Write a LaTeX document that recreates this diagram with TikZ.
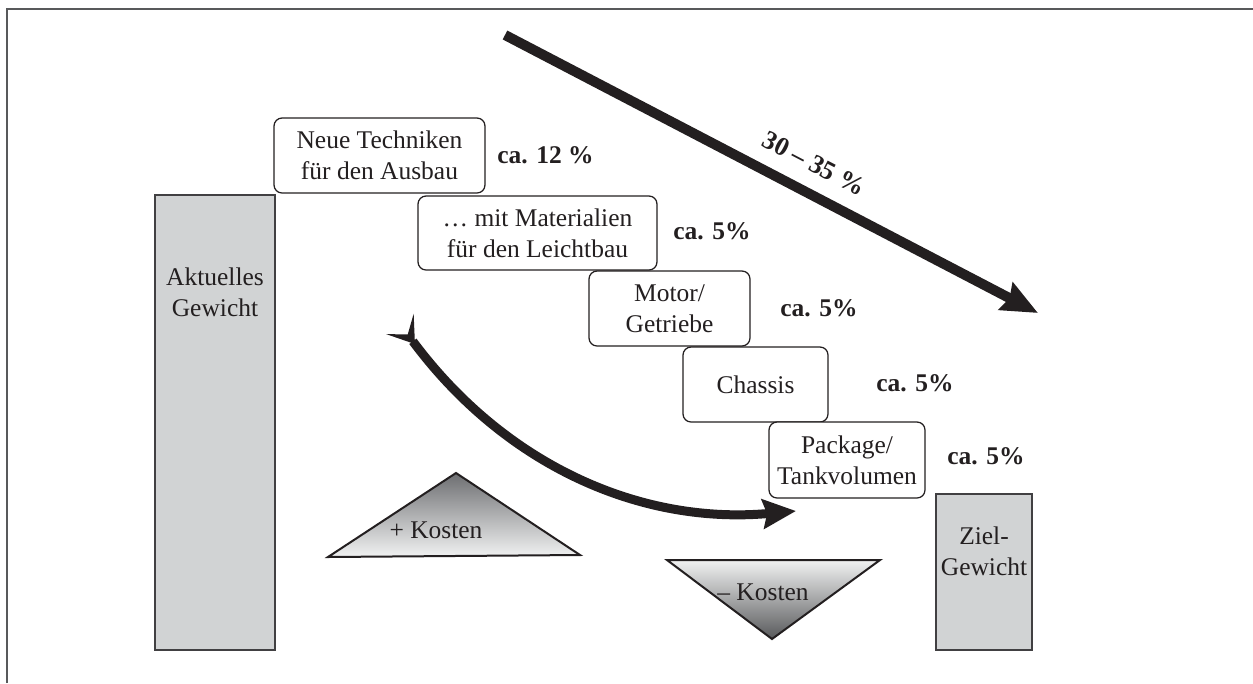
\documentclass[tikz,border=0pt]{standalone}
\usepackage{fontspec}
\setmainfont{Liberation Serif}
\usetikzlibrary{arrows.meta}
\definecolor{ink}{HTML}{231F20}
\definecolor{barfill}{HTML}{D1D3D4}
\definecolor{barline}{HTML}{414042}
\definecolor{framegray}{HTML}{58595B}
\definecolor{shdark}{HTML}{6D6E71}
\definecolor{shlight}{HTML}{F1F2F2}
\tikzset{
  txt/.style={font=\fontsize{14.5}{17.6}\selectfont, text=ink, align=center, inner sep=0pt},
  stepbox/.style={txt, draw=ink, fill=white, line width=0.025cm, rounded corners=0.16cm},
  pct/.style={font=\fontsize{14.5}{17.6}\selectfont\bfseries, text=ink, anchor=west, inner sep=0pt},
  bar/.style={txt, draw=barline, fill=barfill, line width=0.035cm},
  bigarrow/.style={ink, line width=0.2cm, -{Stealth[length=0.72cm,width=0.6cm,inset=0.08cm]}},
  curvearrow/.style={ink, line width=0.18cm,
     {Stealth[reversed,length=0.5cm,width=0.68cm,inset=0.26cm]}-{Stealth[length=0.66cm,width=0.58cm,inset=0.08cm]}},
  tri/.style={draw=ink, line width=0.04cm, line join=miter}
}
\begin{document}
\begin{tikzpicture}[x=0.02cm,y=-0.02cm]
\useasboundingbox (0,0) rectangle (1253,683);
% frame
\draw[framegray, line width=0.04cm] (7,683) -- (7,9) -- (1253,9);

% weight bars
\node[bar, minimum width=2.4cm, minimum height=9.1cm] (akt) at (215,422.5) {};
\node[txt] (akttxt) at (215,292.5) {Aktuelles\\Gewicht};
\node[bar, minimum width=1.92cm, minimum height=3.12cm] (ziel) at (984,572) {};
\node[txt] (zieltxt) at (984,551) {Ziel-\\Gewicht};

% step boxes
\node[stepbox, minimum width=4.22cm, minimum height=1.5cm] (b1) at (379.5,155.5) {Neue Techniken\\für den Ausbau};
\node[stepbox, minimum width=4.78cm, minimum height=1.48cm] (b2) at (537.5,233) {… mit Materialien\\für den Leichtbau};
\node[stepbox, minimum width=3.22cm, minimum height=1.5cm] (b3) at (669.5,308.5) {Motor/\\Getriebe};
\node[stepbox, minimum width=2.9cm, minimum height=1.5cm] (b4) at (755.5,384.5) {Chassis};
\node[stepbox, minimum width=3.12cm, minimum height=1.52cm] (b5) at (847,460) {Package/\\Tankvolumen};

% percentages
\node[pct] (p1) at (497,155) {ca. 12 \%};
\node[pct] (p2) at (673,231) {ca. 5\%};
\node[pct] (p3) at (780,308) {ca. 5\%};
\node[pct] (p4) at (876,383) {ca. 5\%};
\node[pct] (p5) at (947,456) {ca. 5\%};

% big straight arrow
\coordinate (s1) at (505,35);
\coordinate (s2) at (1038,313);
\draw[bigarrow] (s1) -- node[pos=0.555, sloped, above=0.3cm, font=\fontsize{15}{18}\selectfont\bfseries, text=ink, inner sep=0pt] {30 – 35 \%} (s2);

% curved arrow
\coordinate (c1) at (400,324);
\coordinate (c2) at (796,511);
\draw[curvearrow] (c1) .. controls (505,465) and (640,525) .. (c2);

% cost triangles
\shade[top color=shdark, bottom color=shlight] (456,473) -- (580,555) -- (328,557) -- cycle;
\draw[tri] (456,473) -- (580,555) -- (328,557) -- cycle;
\node[txt] (plus) at (436,530) {+ Kosten};

\shade[top color=shlight, bottom color=framegray] (667,560) -- (880,560) -- (772,639) -- cycle;
\draw[tri] (667,560) -- (880,560) -- (772,639) -- cycle;
\node[txt] (minus) at (763,592) {– Kosten};
\end{tikzpicture}
\end{document}
